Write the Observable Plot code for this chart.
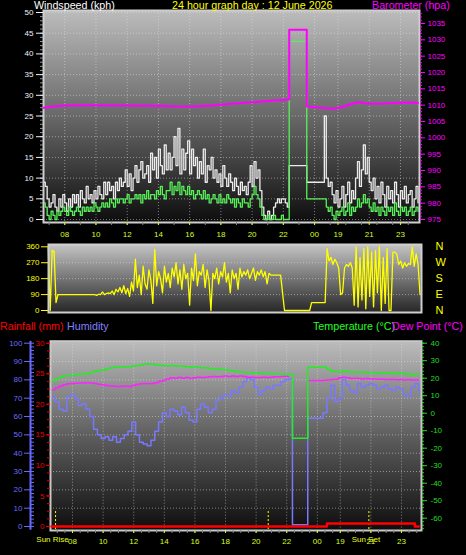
<!DOCTYPE html>
<html><head><meta charset="utf-8">
<script src="https://cdn.jsdelivr.net/npm/d3@7"></script>
<script src="https://cdn.jsdelivr.net/npm/@observablehq/plot@0.6"></script>
<style>
html,body{margin:0;padding:0;background:#000;}
#wrap{position:relative;width:466px;height:555px;overflow:hidden;background:#000;}
</style></head>
<body><div id="wrap">
<svg width="0" height="0" style="position:absolute">
 <defs>
  <linearGradient id="gTop" x1="0" y1="0" x2="0" y2="1">
   <stop offset="0" stop-color="#bcbcbc"/><stop offset="0.5" stop-color="#686868"/><stop offset="1" stop-color="#0d0d0d"/>
  </linearGradient>
  <linearGradient id="gDir" x1="0" y1="0" x2="0" y2="1">
   <stop offset="0" stop-color="#c4c4c4"/><stop offset="1" stop-color="#262626"/>
  </linearGradient>
  <linearGradient id="gBot" x1="0" y1="0" x2="0" y2="1">
   <stop offset="0" stop-color="#bcbcbc"/><stop offset="0.5" stop-color="#5e5e5e"/><stop offset="1" stop-color="#0d0d0d"/>
  </linearGradient>
 </defs>
</svg>
</div>
<script>
// ---------- DATA ----------
const windStart = 6.625, windStep = 0.125;   // hours
const windGust = [
 9,8,5,3,4,6,3,2, 5,3,6,4,2,5,3,6, 4,6,3,7,5,4,8,5, 6,4,7,5,8,6,5,9,
 6,9,7,8,5,9,7,10, 8,9,12,8,11,7,10,13, 9,12,14,10,11,13,9,16, 12,15,10,17,13,11,18,12,
 16,12,15,20,13,22,11,17, 12,16,19,11,17,13,15,10, 14,11,17,9,13,12,15,10, 12,9,11,8,13,10,8,11,
 9,7,10,8,6,9,7,8, 6,9,13,8,14,10,12,7, 3,1,0,2,0,1,3,4, 5,4,5,5,4,3,
 13,13,13,13,13,13,13,13,13,
 9,9,9,9,9,9,9,9,9,
 25,10,8,9,6,4,7,3, 5,8,3,6,9,4,7,5, 10,14,8,12,18,11,15,9, 7,10,5,8,4,9,6,3,
 8,5,7,4,9,6,3,7, 5,8,4,6,7,3,5,8, 4
];
const windAvg = [
 4,3,1,0,2,1,0,2, 1,2,3,2,1,3,2,1, 2,3,2,1,3,2,3,2, 3,2,4,3,2,3,4,3,
 4,3,5,4,3,5,4,5, 5,4,5,6,4,5,5,6, 5,6,4,6,5,7,5,6, 6,5,7,6,8,6,5,7,
 7,9,6,8,7,9,6,8, 7,6,8,6,7,5,6,7, 6,5,7,5,6,4,5,6, 5,4,6,4,5,4,6,5,
 4,5,3,5,4,3,5,4, 4,3,5,6,8,6,5,3, 1,0,0,1,0,0,1,0, 0,0,1,0,0,0,
 43,43,43,43,43,43,43,43,43,
 5,5,5,5,5,5,5,5,5,
 5,3,2,3,1,0,2,1, 2,3,1,2,4,1,3,2, 3,5,3,4,6,4,5,3, 2,4,2,3,1,3,2,1,
 3,2,3,1,4,2,1,3, 2,3,1,2,3,1,2,3, 2
];
const baroHpa = [
 1009.2,1009.3,1009.4,1009.5,1009.6,1009.6,1009.7,1009.7,
 1009.8,1009.8,1009.9,1009.8,1009.9,1009.9,1009.9,1010.0,
 1009.9,1010.0,1010.0,1009.9,1010.0,1010.0,1009.9,1010.0,
 1010.0,1009.9,1010.0,1010.0,1009.9,1010.0,1009.9,1009.9,
 1010.0,1009.9,1009.9,1010.0,1009.9,1009.9,1010.0,1009.9,
 1009.9,1009.9,1009.8,1009.9,1009.9,1009.8,1009.9,1009.9,
 1009.8,1009.9,1009.8,1009.8,1009.9,1009.8,1009.8,1009.9,
 1009.8,1009.8,1009.7,1009.8,1009.8,1009.7,1009.8,1009.7,
 1009.7,1009.7,1009.6,1009.7,1009.6,1009.6,1009.7,1009.6,
 1009.6,1009.6,1009.5,1009.6,1009.6,1009.7,1009.6,1009.7,
 1009.7,1009.8,1009.7,1009.8,1009.9,1009.8,1009.9,1010.0,
 1010.0,1010.1,1010.1,1010.2,1010.2,1010.3,1010.3,1010.4,
 1010.4,1010.5,1010.5,1010.6,1010.6,1010.7,1010.7,1010.8,
 1010.8,1010.8,1010.9,1010.9,1010.9,1011.0,1011.0,1011.1,
 1011.1,1011.2,1011.2,1011.3,1011.3,1011.4,1011.4,1011.5,
 1011.5,1011.5,1011.6,1011.6,1011.7,1011.7,
 1033.1,1033.1,1033.1,1033.1,1033.1,1033.1,1033.1,1033.1,1033.1,
 1009.6,1009.5,1009.5,1009.4,1009.4,1009.3,1009.3,1009.2,1009.2,
 1009.1,1009.0,1009.0,1008.9,1008.9,1009.0,1009.1,1009.2,
 1009.3,1009.5,1009.7,1009.9,1010.1,1010.3,1010.5,1010.6,
 1010.8,1010.9,1010.8,1010.7,1010.6,1010.6,1010.5,1010.5,
 1010.4,1010.5,1010.4,1010.4,1010.5,1010.4,1010.5,1010.5,
 1010.6,1010.6,1010.7,1010.7,1010.6,1010.7,1010.8,1010.7,
 1010.8,1010.8,1010.7,1010.8,1010.8,1010.7,1010.8,1010.7,
 1010.7
];
const windDir = [
 355,0,340,335,45,
 90,90,90,90,90,90,90,90,90,90,90,90,90,90,90,90,90,90,90,
 90,85,92,90,105,90,95,
 100,95,110,90,120,105,130,100,
 140,95,125,80,160,110,290,130,
 200,90,250,150,120,230,170,40,
 345,140,220,180,100,250,160,210,
 130,240,190,270,150,230,120,260,
 180,210,30,240,170,320,140,220,
 200,260,130,230,170,0,210,180,
 240,150,220,190,270,160,210,100,
 230,180,210,120,240,190,220,200,
 230,180,210,240,170,220,200,230,
 190,220,150,210,
 200,200,200,200,200,200,
 100,
 0,0,0,0,0,0,0,0,0,0,0,0,0,0,
 45,45,45,45,45,45,45,45,
 350,280,300,260,290,270,240,90,
 100,240,260,250,270,240,30,360,
 20,300,60,350,10,360,80,330,
 20,340,100,360,0,300,40,350,
 0,0,330,330,
 320,260,280,240,270,250,265,260,
 360,250,320,260,90
];

const climStart = 6.625, climStep = 0.25;   // hours
const tempC = [
 18.7,19.5,20.5,21.2,21.5,21.5,22.0,22.3,22.5,22.5,
 23.2,24.0,24.4,24.6,25.2,25.8,26.2,26.3,26.3,26.6,
 26.6,26.9,27.2,27.5,28.0,28.2,28.0,27.6,27.4,27.2,
 27.0,27.2,27.0,26.8,26.8,26.6,26.4,26.6,26.2,26.0,
 26.0,25.6,25.4,25.2,25.0,24.8,24.6,24.2,23.8,23.6,
 23.4,23.2,23.0,23.0,22.8,22.8,22.6,22.6,22.5,22.5,
 22.3,22.2,22.2,
 -14.3,-14.3,-14.3,-14.3,
 26.3,26.3,26.3,26.3,26.3,
 25.0,24.0,23.8,23.6,24.2,23.8,23.6,23.5,
 23.4,23.6,23.3,23.2,23.1,23.0,23.0,22.8,23.0,22.8,
 22.6,22.8,22.4,22.6,21.8,22.2,22.4
];
const dewC = [
 13.4,14.5,15.5,16.2,16.8,17.0,17.1,17.3,17.3,17.4,
 17.2,17.0,16.6,16.2,15.8,15.6,15.4,15.2,15.4,15.6,
 15.2,15.8,16.4,16.8,17.0,16.8,17.0,17.4,18.2,18.8,
 19.6,20.2,20.0,20.4,20.0,20.4,19.8,20.2,20.6,20.4,
 20.6,20.8,21.0,20.8,21.0,21.2,21.0,21.2,21.0,21.2,
 21.0,20.6,20.6,20.4,20.4,20.6,20.4,20.6,20.8,20.8,
 21.0,21.0,21.0,
 null,null,null,null,
 18.7,18.7,18.7,18.7,18.8,
 19.0,19.2,19.4,20.2,20.6,20.2,19.8,20.0,
 19.8,19.6,19.8,19.6,19.5,19.4,19.4,19.2,19.3,19.2,
 19.1,19.2,19.0,19.1,19.0,18.9,18.8
];
const humidityPct = [
 70.5,68,64,63,71,72,70,66,67,64,
 60,53,50,48,49,47,49,46,48,50,
 52,57,50,46,45,44,47,52,57,62,
 60,64,63,61,65,62,58,57,64,67,
 65,62,64,69,70,72,71,74,73,76,
 79,81,80,76,72,74,76,75,77,77,
 79,80,80.5,
 1,1,1,1,
 59,59,59,59,62,
 70,77,68,70,80,77,74,73,
 78,76,77,78,77,75,76,77,75,74,
 76,75,72,71,76,78,73
];
const rainMm = [
 0,0,0,0,0,0,0,0,0,0, 0,0,0,0,0,0,0,0,0,0, 0,0,0,0,0,0,0,0,0,0,
 0,0,0,0,0,0,0,0,0,0, 0,0,0,0,0,0,0,0,0,0, 0,0,0,0,0,0,0,0,0,0,
 0,0,0,0,0,0,0,0,0,0, 0,0,
 0.5,0.5,0.5,0.5,0.5,0.5,0.5,0.5,0.5,0.5,0.5,0.5,0.5,0.5,0.5,0.5,0.5,0.5,0.5,0.5,0.5,0.5,0.5,
 0,0
];

const xTickValues = [8,10,12,14,16,18,20,22,24,25.5,27.5,29.5];
const xTickLabels = ["08","10","12","14","16","18","20","22","00","19","21","23"];
const windTicks = [0,5,10,15,20,25,30,35,40,45,50];
const baroTicks = [975,980,985,990,995,1000,1005,1010,1015,1020,1025,1030,1035];
const dirTicks = [0,90,180,270,360];
const compassLabels = ["N","E","S","W","N"];
const humTicks = [0,10,20,30,40,50,60,70,80,90,100];
const rainTicks = [0,5,10,15,20,25,30];
const tempTicks = [-60,-50,-40,-30,-20,-10,0,10,20,30,40];
const sunTimes = [6.89, 20.79, 27.37];
const sunLabels = ["Sun Rise", "", "Sun Set"];

// ---------- TABLES ----------
const windRows = windGust.map((g, i) => ({t: windStart + i * windStep, gust: g, avg: windAvg[i], baro: baroHpa[i], dir: windDir[i]}));
const climRows = tempC.map((v, i) => ({t: climStart + i * climStep, temp: v, dew: dewC[i], hum: humidityPct[i], rain: rainMm[i]}));
const sunRows = sunTimes.map((t, i) => ({t, label: sunLabels[i]}));

// ---------- DRAW ----------
const FONT = "'Liberation Sans', Arial, Helvetica, sans-serif";
const baseStyle = {background: "transparent", fontFamily: FONT, fontSize: "8px", overflow: "visible"};
const wrap = document.getElementById("wrap");
function place(svg, top) {
  svg.style.position = "absolute"; svg.style.left = "0px"; svg.style.top = top + "px";
  svg.style.maxWidth = "none"; svg.style.overflow = "visible";
  wrap.appendChild(svg);
}
const fmtX = d => { const k = xTickValues.indexOf(d); return k < 0 ? "" : xTickLabels[k]; };
const blank = () => "";
const gridStyle = {stroke: "#e4e4e4", strokeOpacity: 0.5, strokeDasharray: "1,2"};

// Top panel: wind speed
const topDims = {width: 466, height: 240, marginLeft: 43, marginRight: 47, marginTop: 10, marginBottom: 18};
const topX = {domain: [6.64, 30.72], axis: null, label: null};
place(Plot.plot({...topDims, style: baseStyle, x: topX,
  y: {domain: [-0.72, 50.48], axis: null, label: null},
  marks: [
    Plot.frame({fill: "url(#gTop)"}),
    Plot.gridY({ticks: windTicks, ...gridStyle}),
    Plot.gridX({ticks: xTickValues, ...gridStyle}),
    Plot.line(windRows, {x: "t", y: "gust", curve: "step-after", stroke: "#ececec", strokeWidth: 1.3}),
    Plot.line(windRows, {x: "t", y: "avg", curve: "step-after", stroke: "#58f058", strokeWidth: 1.3}),
    Plot.frame({stroke: "#cfcfcf", strokeWidth: 2}),
    Plot.axisY({ticks: d3.range(0, 51, 1), anchor: "left", tickSize: 3, tickFormat: blank, color: "#9a9a9a", label: null}),
    Plot.axisY({ticks: windTicks, anchor: "left", tickSize: 7, tickPadding: 3, tickFormat: d => String(d), color: "#eef2ff", label: null}),
    Plot.axisX({ticks: d3.range(7, 31, 1), anchor: "bottom", tickSize: 3, tickFormat: blank, color: "#888", label: null}),
    Plot.axisX({ticks: xTickValues, anchor: "bottom", tickSize: 3, tickPadding: 6, tickFormat: fmtX, color: "#d8ff20", label: null})
  ]}), 0);

// Top panel overlay: barometer
place(Plot.plot({...topDims, style: baseStyle, x: topX,
  y: {domain: [974.08, 1038.98], axis: null, label: null},
  marks: [
    Plot.line(windRows, {x: "t", y: "baro", curve: "step-after", stroke: "#ff00ff", strokeWidth: 2}),
    Plot.axisY({ticks: d3.range(975, 1039, 1), anchor: "right", tickSize: 2, tickFormat: blank, color: "#ff00ff", label: null}),
    Plot.axisY({ticks: baroTicks, anchor: "right", tickSize: 5, tickPadding: 3, tickFormat: d => String(d), color: "#ff00ff", label: null})
  ]}), 0);

// Direction panel
place(Plot.plot({width: 466, height: 84, marginLeft: 48, marginRight: 45, marginTop: 8, marginBottom: 8, style: baseStyle,
  x: {domain: [6.64, 30.72], axis: null, label: null},
  y: {domain: [-11.25, 373], axis: null, label: null},
  marks: [
    Plot.frame({fill: "url(#gDir)"}),
    Plot.gridY({ticks: [90, 180, 270], ...gridStyle}),
    Plot.line(windRows, {x: "t", y: "dir", curve: "linear", stroke: "#ffff00", strokeWidth: 1.3}),
    Plot.frame({stroke: "#cfcfcf", strokeWidth: 2}),
    Plot.axisY({ticks: dirTicks, anchor: "left", tickSize: 7, tickPadding: 2, tickFormat: d => String(d), color: "#ffff00", label: null}),
    Plot.axisY({ticks: dirTicks, anchor: "right", tickSize: 0, tickPadding: 14, tickFormat: d => compassLabels[dirTicks.indexOf(d)], color: "#ffff00", fontSize: 11, label: null})
  ]}), 236);

// Bottom panel
const botDims = {width: 466, height: 225, marginLeft: 50, marginRight: 45, marginTop: 10.7, marginBottom: 25};
const botX = {domain: [6.56, 30.81], axis: null, label: null};
// humidity (with background)
place(Plot.plot({...botDims, style: baseStyle, x: botX,
  y: {domain: [-2.18, 101.09], axis: null, label: null},
  marks: [
    Plot.frame({fill: "url(#gBot)"}),
    Plot.gridY({ticks: [10,20,30,40,50,60,70,80,90], ...gridStyle}),
    Plot.gridX({ticks: xTickValues, ...gridStyle}),
    Plot.line(climRows, {x: "t", y: "hum", curve: "step-after", stroke: "#7878ff", strokeWidth: 1.5}),
    Plot.ruleX([botX.domain[0]], {dx: -20, y1: -2, y2: 101, stroke: "#6a6aff", strokeWidth: 2}),
    Plot.axisY({ticks: humTicks, anchor: "left", dx: -20, tickSize: 6, tickPadding: 2, tickFormat: d => String(d), color: "#6a6aff", label: null}),
    Plot.axisY({ticks: d3.range(0, 101, 2), anchor: "right", dx: 30 - 421, tickSize: 3, tickFormat: blank, color: "#6a6aff", label: null})
  ]}), 330);
// temperature & dew point
place(Plot.plot({...botDims, style: baseStyle, x: botX,
  y: {domain: [-67.03, 41.14], axis: null, label: null},
  marks: [
    Plot.ruleX(sunRows, {x: "t", y1: -56.2, y2: -66.5, stroke: "#ffff00", strokeDasharray: "2,2"}),
    Plot.line(climRows, {x: "t", y: "dew", curve: "step-after", stroke: "#ff22ff", strokeWidth: 1.5}),
    Plot.line(climRows, {x: "t", y: "temp", curve: "step-after", stroke: "#22ee22", strokeWidth: 1.5}),
    Plot.frame({stroke: "#c8c8c8", strokeWidth: 2}),
    Plot.axisY({ticks: d3.range(-66, 41, 2), anchor: "right", tickSize: 2, tickFormat: blank, color: "#22dd22", label: null}),
    Plot.axisY({ticks: tempTicks, anchor: "right", tickSize: 5, tickPadding: 4, tickFormat: d => String(d), color: "#22dd22", label: null}),
    Plot.axisX({ticks: d3.range(7, 31, 0.5), anchor: "bottom", tickSize: 3, tickFormat: blank, color: "#888", label: null}),
    Plot.axisX({ticks: xTickValues, anchor: "bottom", tickSize: 3, tickPadding: 5, tickFormat: fmtX, color: "#d8ff20", label: null}),
    Plot.text(sunRows, {x: "t", text: "label", frameAnchor: "bottom", dy: 11.7, dx: -3, fill: "#e8ff20"})
  ]}), 330);
// rainfall
place(Plot.plot({...botDims, style: baseStyle, x: botX,
  y: {domain: [-0.655, 30.33], axis: null, label: null},
  marks: [
    Plot.line(climRows, {x: "t", y: "rain", curve: "step-after", stroke: "#ff0000", strokeWidth: 2.5}),
    Plot.axisY({ticks: d3.range(0, 30.01, 1.25), anchor: "left", tickSize: 3, tickFormat: blank, color: "#dd0000", label: null}),
    Plot.axisY({ticks: rainTicks, anchor: "left", tickSize: 4, tickPadding: 2, tickFormat: d => String(d), color: "#ee0000", label: null})
  ]}), 330);

// Titles
const NS = "http://www.w3.org/2000/svg";
const tsvg = document.createElementNS(NS, "svg");
tsvg.setAttribute("width", 466); tsvg.setAttribute("height", 555);
tsvg.style.position = "absolute"; tsvg.style.left = "0px"; tsvg.style.top = "0px"; tsvg.style.pointerEvents = "none";
const titles = [
  {x: 34, y: 9.3, text: "Windspeed (kph)", fill: "#ffffff", anchor: "start"},
  {x: 252.3, y: 9.3, text: "24 hour graph day : 12 June 2026", fill: "#ffff00", anchor: "middle"},
  {x: 372, y: 9.3, text: "Barometer (hpa)", fill: "#ff00ff", anchor: "start"},
  {x: 0, y: 330.3, text: "Rainfall (mm)", fill: "#ff0000", anchor: "start"},
  {x: 67, y: 330.3, text: "Humidity", fill: "#8080ff", anchor: "start"},
  {x: 313, y: 330.3, text: "Temperature (°C)", fill: "#22ff22", anchor: "start"},
  {x: 392, y: 330.3, text: "Dew Point (°C)", fill: "#ff00ff", anchor: "start"}
];
for (const t of titles) {
  const el = document.createElementNS(NS, "text");
  el.setAttribute("x", t.x); el.setAttribute("y", t.y);
  el.setAttribute("fill", t.fill); el.setAttribute("text-anchor", t.anchor);
  el.setAttribute("font-family", FONT); el.setAttribute("font-size", "10.7");
  el.textContent = t.text;
  tsvg.appendChild(el);
}
wrap.appendChild(tsvg);
</script>
</body></html>
